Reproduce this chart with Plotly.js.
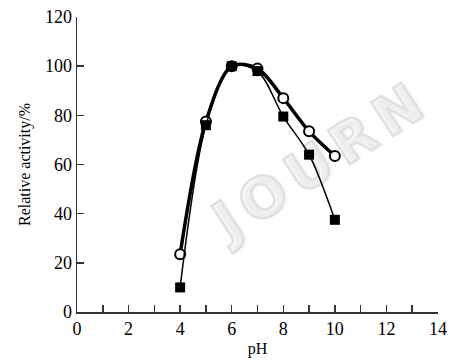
<!DOCTYPE html>
<html>
<head>
<meta charset="utf-8">
<script src="https://cdn.plot.ly/plotly-3.0.1.min.js"></script>
<style>
html,body{margin:0;padding:0;background:#fff;overflow:hidden;}
#wrap{position:relative;width:450px;height:361px;overflow:hidden;}
#wm{position:absolute;left:322px;top:160px;transform:translate(-50%,-50%) rotate(-33deg);
  font-family:'DejaVu Sans';font-weight:bold;font-size:55px;letter-spacing:9px;white-space:nowrap;line-height:1;
  color:transparent;-webkit-text-stroke:2.5px #e0e0e0;text-shadow:2px 2px 3px rgba(0,0,0,0.07);z-index:0;}
#chart{position:absolute;left:0;top:0;width:450px;height:361px;z-index:1;}
</style>
</head>
<body>
<div id="wrap">
<div id="wm">JOURN</div>
<div id="chart"></div>
</div>
<script>
const pH = [4, 5, 6, 7, 8, 9, 10];
const circleActivity = [23.5, 77.5, 100, 99, 87, 73.5, 63.5];
const squareActivity = [10, 76, 100, 98, 79.5, 64, 37.5];
const xTickVals = [0,1,2,3,4,5,6,7,8,9,10,11,12,13,14];
const xTickText = ['0','','2','','4','','6','','8','','10','','12','','14'];
const yTickVals = [0, 20, 40, 60, 80, 100, 120];

const traces = [
  {
    x: pH, y: circleActivity, type: 'scatter', mode: 'lines+markers',
    line: {color: '#000', width: 3.5, shape: 'spline', smoothing: 0.9},
    marker: {symbol: 'circle', size: 10, color: '#fff', line: {color: '#000', width: 2}},
    showlegend: false, cliponaxis: false
  },
  {
    x: pH, y: squareActivity, type: 'scatter', mode: 'lines+markers',
    line: {color: '#000', width: 1.5, shape: 'spline', smoothing: 0.9},
    marker: {symbol: 'square', size: 10, color: '#000', line: {color: '#000', width: 0}},
    showlegend: false, cliponaxis: false
  }
];

const FAM = 'Liberation Serif';

const layout = {
  width: 450, height: 361,
  margin: {l: 77, r: 12, t: 17, b: 49},
  paper_bgcolor: 'rgba(0,0,0,0)', plot_bgcolor: 'rgba(0,0,0,0)',
  font: {family: FAM, color: '#000', size: 16},
  xaxis: {
    range: [0, 14], tickmode: 'array', tickvals: xTickVals, ticktext: xTickText,
    ticks: 'inside', ticklen: 7, tickwidth: 1.5, tickcolor: '#333',
    showline: true, linecolor: '#333', linewidth: 1.5,
    showgrid: false, zeroline: false,
    tickfont: {family: FAM, size: 18, color: '#000'},
    title: {text: 'pH', font: {family: FAM, size: 16, color: '#000'}, standoff: 4}
  },
  yaxis: {
    range: [0, 120], tickmode: 'array', tickvals: yTickVals,
    ticks: 'inside', ticklen: 7, tickwidth: 1.5, tickcolor: '#333',
    showline: true, linecolor: '#333', linewidth: 1.5,
    showgrid: false, zeroline: false,
    tickfont: {family: FAM, size: 18, color: '#000'},
    title: {text: 'Relative activity/%', font: {family: FAM, size: 16, color: '#000'}, standoff: 10}
  }
};

Plotly.newPlot('chart', traces, layout, {displayModeBar: false, staticPlot: true});
</script>
</body>
</html>
